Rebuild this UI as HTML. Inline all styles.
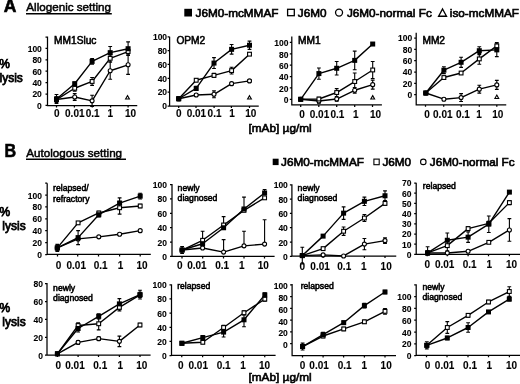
<!DOCTYPE html>
<html><head><meta charset="utf-8"><style>
html,body{margin:0;padding:0;background:#fff;}
svg{display:block;will-change:transform;filter:blur(0.3px);}
text{font-family:"Liberation Sans", sans-serif;fill:#000;stroke:#000;}
.hd{font-size:17.5px;font-weight:bold;stroke-width:0.6px;}
.st{font-size:11.65px;stroke-width:0.5px;}
.lg{font-size:11.75px;stroke-width:0.65px;}
.yl{font-size:12px;stroke-width:0.75px;}
.xl{font-size:11.8px;stroke-width:0.65px;}
.yt{font-size:8.5px;font-weight:bold;text-anchor:end;stroke-width:0.1px;}
.xt{font-size:10px;font-weight:bold;stroke-width:0.1px;}
.pt{stroke-width:0.55px;}
.ax{fill:none;stroke:#000;stroke-width:1.25px;}
.eb{fill:none;stroke:#000;stroke-width:1.1px;}
.ln{fill:none;stroke:#000;stroke-width:1.4px;stroke-linejoin:round;}
.o{fill:#fff;stroke:#000;stroke-width:1.1px;}
</style></head><body>
<svg width="520" height="384" viewBox="0 0 520 384">
<text x="3.7" y="12.4" class="hd">A</text>
<text x="26.3" y="11.3" class="st">Allogenic setting</text>
<path d="M26 13.75H111.8" class="ax" style="stroke-width:1.5px"/>
<text x="4.5" y="156.9" class="hd" textLength="11.6" lengthAdjust="spacingAndGlyphs">B</text>
<text x="26.3" y="156.8" class="st">Autologous setting</text>
<path d="M26 159.2H126" class="ax" style="stroke-width:1.5px"/>
<rect x="184.3" y="8.8" width="7.7" height="7.7"/>
<text x="195.5" y="16.7" class="lg">J6M0-mcMMAF</text>
<rect x="287.6" y="9.3" width="6.7" height="6.4" class="o" style="stroke-width:1.3px"/>
<text x="297.8" y="16.7" class="lg">J6M0</text>
<circle cx="339.05" cy="12.6" r="3.5" class="o" style="stroke-width:1.3px"/>
<text x="346.9" y="16.7" class="lg">J6M0-normal Fc</text>
<path d="M442.55 9L446.5 16.2H438.6Z" class="o" style="stroke-width:1.35px" stroke-linejoin="miter"/>
<text x="449.8" y="16.7" class="lg">iso-mcMMAF</text>
<rect x="272.7" y="158.7" width="5.9" height="6.4"/>
<text x="281.0" y="165.6" class="lg">J6M0-mcMMAF</text>
<rect x="373.9" y="159.1" width="5.3" height="5.6" class="o"/>
<text x="382.4" y="165.6" class="lg">J6M0</text>
<circle cx="423.3" cy="161.9" r="2.75" class="o"/>
<text x="429.8" y="165.6" class="lg">J6M0-normal Fc</text>
<text x="-0.8" y="67.7" class="yl">%</text>
<text x="-0.5" y="82.0" class="yl">lysis</text>
<text x="-0.5" y="216.2" class="yl">%</text>
<text x="2.3" y="230.0" class="yl">lysis</text>
<text x="-0.5" y="311.5" class="yl">%</text>
<text x="2.3" y="325.6" class="yl">lysis</text>
<text x="248.5" y="131.7" class="xl">[mAb] µg/ml</text>
<text x="248.5" y="381.4" class="xl">[mAb] µg/ml</text>
<path d="M47.5 36.4V105.6H137.25M45.5 105.4H47.5M45.5 94H47.5M45.5 82.6H47.5M45.5 71.2H47.5M45.5 59.8H47.5M45.5 48.4H47.5M45.5 37H47.5M56.5 105.6V107.6M74.4 105.6V107.6M92.25 105.6V107.6M110.6 105.6V107.6M128.1 105.6V107.6" class="ax"/>
<text x="41.85" y="108.8" class="yt">0</text>
<text x="41.85" y="97.4" class="yt">20</text>
<text x="41.85" y="86" class="yt">40</text>
<text x="41.85" y="74.6" class="yt">60</text>
<text x="41.85" y="63.2" class="yt">80</text>
<text x="41.85" y="51.8" class="yt">100</text>
<text x="53.95" y="117.4" class="xt">0</text>
<text x="65.05" y="117.4" class="xt">0.01</text>
<text x="85.7" y="117.4" class="xt">0.1</text>
<text x="107.6" y="117.4" class="xt">1</text>
<text x="124.88" y="117.4" class="xt">10</text>
<text x="54" y="44" class="pt" style="font-size:10.2px">MM1Sluc</text>
<path d="M56.5 94.47V103.5M54.6 94.47H58.4M54.6 103.5H58.4M74.7 82.04V85.42M72.8 82.04H76.6M72.8 85.42H76.6M92.1 58.59V64.24M90.2 58.59H94M90.2 64.24H94M110.2 46.44V58.87M108.3 46.44H112.1M108.3 58.87H112.1M128.1 41.92V55.48M126.2 41.92H130M126.2 55.48H130M56.5 96.72V102.38M54.6 96.72H58.4M54.6 102.38H58.4M74.7 85.42V91.08M72.8 85.42H76.6M72.8 91.08H76.6M92.1 77.52V85.42M90.2 77.52H94M90.2 85.42H94M110.2 54.92V61.7M108.3 54.92H112.1M108.3 61.7H112.1M128.1 48.14V54.92M126.2 48.14H130M126.2 54.92H130M56.5 96.72V102.38M54.6 96.72H58.4M54.6 102.38H58.4M74.7 93.62V100.4M72.8 93.62H76.6M72.8 100.4H76.6M92.1 95.2V106.5M90.2 95.2H94M90.2 106.5H94M110.2 62.26V79.21M108.3 62.26H112.1M108.3 79.21H112.1M128.1 55.2V74.41M126.2 55.2H130M126.2 74.41H130" class="eb"/>
<path d="M56.5 98.98L74.7 83.73L92.1 61.41L110.2 52.66L128.1 48.7" class="ln"/>
<path d="M56.5 99.55L74.7 88.25L92.1 81.47L110.2 58.31L128.1 51.53" class="ln"/>
<path d="M56.5 99.55L74.7 97.01L92.1 100.85L110.2 70.74L128.1 64.8" class="ln"/>
<path d="M127.5 95.59L129.4 98.99L125.6 98.99Z" class="o" stroke-width="1.2"/>
<circle cx="56.5" cy="99.55" r="2.0" class="o"/>
<circle cx="74.7" cy="97.01" r="2.0" class="o"/>
<circle cx="92.1" cy="100.85" r="2.0" class="o"/>
<circle cx="110.2" cy="70.74" r="2.0" class="o"/>
<circle cx="128.1" cy="64.8" r="2.0" class="o"/>
<rect x="54.6" y="97.65" width="3.8" height="3.8" class="o"/>
<rect x="72.8" y="86.35" width="3.8" height="3.8" class="o"/>
<rect x="90.2" y="79.57" width="3.8" height="3.8" class="o"/>
<rect x="108.3" y="56.41" width="3.8" height="3.8" class="o"/>
<rect x="126.2" y="49.63" width="3.8" height="3.8" class="o"/>
<rect x="54" y="96.48" width="5" height="5"/>
<rect x="72.2" y="81.23" width="5" height="5"/>
<rect x="89.6" y="58.91" width="5" height="5"/>
<rect x="107.7" y="50.16" width="5" height="5"/>
<rect x="125.6" y="46.2" width="5" height="5"/>
<path d="M169.6 36.8V106H258.75M167.6 106H169.6M167.6 92.16H169.6M167.6 78.32H169.6M167.6 64.48H169.6M167.6 50.64H169.6M167.6 36.8H169.6M178.7 106V108M196 106V108M214.1 106V108M231.4 106V108M249.5 106V108" class="ax"/>
<text x="167.1" y="109.2" class="yt">0</text>
<text x="167.1" y="95.36" class="yt">20</text>
<text x="167.1" y="81.52" class="yt">40</text>
<text x="167.1" y="67.68" class="yt">60</text>
<text x="167.1" y="53.84" class="yt">80</text>
<text x="167.1" y="40" class="yt">100</text>
<text x="176.05" y="117.4" class="xt">0</text>
<text x="186.65" y="117.4" class="xt">0.01</text>
<text x="207.6" y="117.4" class="xt">0.1</text>
<text x="229.2" y="117.4" class="xt">1</text>
<text x="245.18" y="117.4" class="xt">10</text>
<text x="176.4" y="44" class="pt" style="font-size:10.2px">OPM2</text>
<path d="M178.7 96.68V100.8M176.8 96.68H180.6M176.8 100.8H180.6M196.2 86.39V90.51M194.3 86.39H198.1M194.3 90.51H198.1M214 57.58V68.56M212.1 57.58H215.9M212.1 68.56H215.9M231.6 44.55V54.15M229.7 44.55H233.5M229.7 54.15H233.5M249.5 41.12V49.35M247.6 41.12H251.4M247.6 49.35H251.4M178.7 97.37V100.11M176.8 97.37H180.6M176.8 100.11H180.6M196.2 78.85V81.59M194.3 78.85H198.1M194.3 81.59H198.1M214 73.36V77.47M212.1 73.36H215.9M212.1 77.47H215.9M231.6 67.18V74.04M229.7 67.18H233.5M229.7 74.04H233.5M249.5 52.78V55.52M247.6 52.78H251.4M247.6 55.52H251.4M178.7 97.37V100.11M176.8 97.37H180.6M176.8 100.11H180.6M196.2 93.59V96.34M194.3 93.59H198.1M194.3 96.34H198.1M214 90.85V97.71M212.1 90.85H215.9M212.1 97.71H215.9M231.6 82.28V85.02M229.7 82.28H233.5M229.7 85.02H233.5M249.5 79.53V82.28M247.6 79.53H251.4M247.6 82.28H251.4" class="eb"/>
<path d="M178.7 98.74L196.2 88.45L214 63.07L231.6 49.35L249.5 45.23" class="ln"/>
<path d="M178.7 98.74L196.2 80.22L214 75.42L231.6 70.61L249.5 54.15" class="ln"/>
<path d="M178.7 98.74L196.2 94.97L214 94.28L231.6 83.65L249.5 80.9" class="ln"/>
<path d="M249.5 95.67L251.4 99.07L247.6 99.07Z" class="o" stroke-width="1.2"/>
<circle cx="178.7" cy="98.74" r="2.0" class="o"/>
<circle cx="196.2" cy="94.97" r="2.0" class="o"/>
<circle cx="214" cy="94.28" r="2.0" class="o"/>
<circle cx="231.6" cy="83.65" r="2.0" class="o"/>
<circle cx="249.5" cy="80.9" r="2.0" class="o"/>
<rect x="176.8" y="96.84" width="3.8" height="3.8" class="o"/>
<rect x="194.3" y="78.32" width="3.8" height="3.8" class="o"/>
<rect x="212.1" y="73.52" width="3.8" height="3.8" class="o"/>
<rect x="229.7" y="68.71" width="3.8" height="3.8" class="o"/>
<rect x="247.6" y="52.25" width="3.8" height="3.8" class="o"/>
<rect x="176.2" y="96.24" width="5" height="5"/>
<rect x="193.7" y="85.95" width="5" height="5"/>
<rect x="211.5" y="60.57" width="5" height="5"/>
<rect x="229.1" y="46.85" width="5" height="5"/>
<rect x="247" y="42.73" width="5" height="5"/>
<path d="M291.8 36.4V104.9H381.9M289.8 99.3H291.8M289.8 87.92H291.8M289.8 76.54H291.8M289.8 65.16H291.8M289.8 53.78H291.8M289.8 42.4H291.8M300.7 104.9V106.9M318.8 104.9V106.9M336.7 104.9V106.9M354.7 104.9V106.9M372.5 104.9V106.9" class="ax"/>
<text x="288.55" y="103.1" class="yt">0</text>
<text x="288.55" y="91.72" class="yt">20</text>
<text x="288.55" y="80.34" class="yt">40</text>
<text x="288.55" y="68.96" class="yt">60</text>
<text x="288.55" y="57.58" class="yt">80</text>
<text x="288.55" y="46.2" class="yt">100</text>
<text x="299.25" y="117.6" class="xt">0</text>
<text x="309.75" y="117.6" class="xt">0.01</text>
<text x="330.5" y="117.6" class="xt">0.1</text>
<text x="352.9" y="117.6" class="xt">1</text>
<text x="369.88" y="117.6" class="xt">10</text>
<text x="298" y="43.8" class="pt" style="font-size:10.2px">MM1</text>
<path d="M318.9 67.94V79.22M317 67.94H320.8M317 79.22H320.8M336.7 61.51V75.05M334.8 61.51H338.6M334.8 75.05H338.6M354.7 51.08V69.69M352.8 51.08H356.6M352.8 69.69H356.6M372.7 42.9V45.16M370.8 42.9H374.6M370.8 45.16H374.6M318.9 97.33V100.71M317 97.33H320.8M317 100.71H320.8M336.7 88.58V96.48M334.8 88.58H338.6M334.8 96.48H338.6M354.7 73.07V89.99M352.8 73.07H356.6M352.8 89.99H356.6M372.7 61.51V78.43M370.8 61.51H374.6M370.8 78.43H374.6M318.9 98.74V103.25M317 98.74H320.8M317 103.25H320.8M336.7 96.76V101.27M334.8 96.76H338.6M334.8 101.27H338.6M354.7 87.46V93.1M352.8 87.46H356.6M352.8 93.1H356.6M372.7 80.12V89.15M370.8 80.12H374.6M370.8 89.15H374.6" class="eb"/>
<path d="M300.7 99.3L318.9 73.58L336.7 68.28L354.7 60.38L372.7 44.03" class="ln"/>
<path d="M300.7 99.3L318.9 99.02L336.7 92.53L354.7 81.53L372.7 69.97" class="ln"/>
<path d="M300.7 99.3L318.9 100.99L336.7 99.02L354.7 90.28L372.7 84.64" class="ln"/>
<path d="M372.7 95.63L374.6 99.03L370.8 99.03Z" class="o" stroke-width="1.2"/>
<circle cx="300.7" cy="99.3" r="2.0" class="o"/>
<circle cx="318.9" cy="100.99" r="2.0" class="o"/>
<circle cx="336.7" cy="99.02" r="2.0" class="o"/>
<circle cx="354.7" cy="90.28" r="2.0" class="o"/>
<circle cx="372.7" cy="84.64" r="2.0" class="o"/>
<rect x="298.8" y="97.4" width="3.8" height="3.8" class="o"/>
<rect x="317" y="97.12" width="3.8" height="3.8" class="o"/>
<rect x="334.8" y="90.63" width="3.8" height="3.8" class="o"/>
<rect x="352.8" y="79.63" width="3.8" height="3.8" class="o"/>
<rect x="370.8" y="68.07" width="3.8" height="3.8" class="o"/>
<rect x="298.2" y="96.8" width="5" height="5"/>
<rect x="316.4" y="71.08" width="5" height="5"/>
<rect x="334.2" y="65.78" width="5" height="5"/>
<rect x="352.2" y="57.88" width="5" height="5"/>
<rect x="370.2" y="41.53" width="5" height="5"/>
<path d="M416.2 32.8V104.75H506.25M414.2 94.6H416.2M414.2 83.3H416.2M414.2 72H416.2M414.2 60.7H416.2M414.2 49.4H416.2M414.2 38.1H416.2M425.5 104.75V106.75M443.7 104.75V106.75M461.2 104.75V106.75M479.3 104.75V106.75M496.8 104.75V106.75" class="ax"/>
<text x="412.2" y="97.9" class="yt">0</text>
<text x="412.2" y="86.6" class="yt">20</text>
<text x="412.2" y="75.3" class="yt">40</text>
<text x="412.2" y="64" class="yt">60</text>
<text x="412.2" y="52.7" class="yt">80</text>
<text x="412.2" y="41.4" class="yt">100</text>
<text x="424.15" y="117.6" class="xt">0</text>
<text x="433.05" y="117.6" class="xt">0.01</text>
<text x="456" y="117.6" class="xt">0.1</text>
<text x="476.2" y="117.6" class="xt">1</text>
<text x="492.18" y="117.6" class="xt">10</text>
<text x="422.4" y="43.7" class="pt" style="font-size:10.2px">MM2</text>
<path d="M443.9 66.81V73.59M442 66.81H445.8M442 73.59H445.8M461.1 57.21V67.38M459.2 57.21H463M459.2 67.38H463M479.3 46.76V54.67M477.4 46.76H481.2M477.4 54.67H481.2M496.8 43.09V56.65M494.9 43.09H498.7M494.9 56.65H498.7M443.9 76.42V78.68M442 76.42H445.8M442 78.68H445.8M461.1 71.9V74.16M459.2 71.9H463M459.2 74.16H463M479.3 53.54V64.27M477.4 53.54H481.2M477.4 64.27H481.2M496.8 42.52V49.3M494.9 42.52H498.7M494.9 49.3H498.7M443.9 98.06V100.32M442 98.06H445.8M442 100.32H445.8M461.1 93.65V101.56M459.2 93.65H463M459.2 101.56H463M479.3 85.18V93.09M477.4 85.18H481.2M477.4 93.09H481.2M496.8 80.38V89.41M494.9 80.38H498.7M494.9 89.41H498.7" class="eb"/>
<path d="M425.8 93.03L443.9 70.2L461.1 62.3L479.3 50.71L496.8 49.87" class="ln"/>
<path d="M425.8 93.03L443.9 77.55L461.1 73.03L479.3 58.91L496.8 45.91" class="ln"/>
<path d="M425.8 93.03L443.9 99.19L461.1 97.61L479.3 89.13L496.8 84.89" class="ln"/>
<path d="M496.8 95.06L498.7 98.46L494.9 98.46Z" class="o" stroke-width="1.2"/>
<circle cx="425.8" cy="93.03" r="2.0" class="o"/>
<circle cx="443.9" cy="99.19" r="2.0" class="o"/>
<circle cx="461.1" cy="97.61" r="2.0" class="o"/>
<circle cx="479.3" cy="89.13" r="2.0" class="o"/>
<circle cx="496.8" cy="84.89" r="2.0" class="o"/>
<rect x="423.9" y="91.13" width="3.8" height="3.8" class="o"/>
<rect x="442" y="75.65" width="3.8" height="3.8" class="o"/>
<rect x="459.2" y="71.13" width="3.8" height="3.8" class="o"/>
<rect x="477.4" y="57.01" width="3.8" height="3.8" class="o"/>
<rect x="494.9" y="44.01" width="3.8" height="3.8" class="o"/>
<rect x="423.3" y="90.53" width="5" height="5"/>
<rect x="441.4" y="67.7" width="5" height="5"/>
<rect x="458.6" y="59.8" width="5" height="5"/>
<rect x="476.8" y="48.21" width="5" height="5"/>
<rect x="494.3" y="47.37" width="5" height="5"/>
<path d="M47.2 183.2V254.4H150.8M45.2 254.5H47.2M45.2 242.6H47.2M45.2 230.7H47.2M45.2 218.8H47.2M45.2 206.9H47.2M45.2 195H47.2M45.2 183.1H47.2M57.5 254.4V256.4M77.7 254.4V256.4M98.5 254.4V256.4M119.6 254.4V256.4M140.2 254.4V256.4" class="ax"/>
<text x="42.05" y="258" class="yt">0</text>
<text x="42.05" y="246.1" class="yt">20</text>
<text x="42.05" y="234.2" class="yt">40</text>
<text x="42.05" y="222.3" class="yt">60</text>
<text x="42.05" y="210.4" class="yt">80</text>
<text x="42.05" y="198.5" class="yt">100</text>
<text x="55.65" y="269.1" class="xt">0</text>
<text x="66.5" y="269.1" class="xt">0.01</text>
<text x="93.75" y="269.1" class="xt">0.1</text>
<text x="117.8" y="269.1" class="xt">1</text>
<text x="136.47" y="269.1" class="xt">10</text>
<text x="53.1" y="191.4" class="pt" style="font-size:8.65px">relapsed/</text>
<text x="53.1" y="201.6" class="pt" style="font-size:8.65px">refractory</text>
<path d="M57.3 244.41V251.39M55.4 244.41H59.2M55.4 251.39H59.2M78.1 230.61V244.58M76.2 230.61H80M76.2 244.58H80M98.8 212.4V217.05M96.9 212.4H100.7M96.9 217.05H100.7M119.6 197.85V208.32M117.7 197.85H121.5M117.7 208.32H121.5M140.2 193.19V199.01M138.3 193.19H142.1M138.3 199.01H142.1M57.3 244.99V250.81M55.4 244.99H59.2M55.4 250.81H59.2M78.1 221.71V224.04M76.2 221.71H80M76.2 224.04H80M98.8 211.23V214.72M96.9 211.23H100.7M96.9 214.72H100.7M119.6 201.34V214.14M117.7 201.34H121.5M117.7 214.14H121.5M140.2 204.25V207.74M138.3 204.25H142.1M138.3 207.74H142.1M57.3 244.99V250.81M55.4 244.99H59.2M55.4 250.81H59.2M78.1 237.71V240.04M76.2 237.71H80M76.2 240.04H80M98.8 235.68V238M96.9 235.68H100.7M96.9 238H100.7M119.6 233.06V235.38M117.7 233.06H121.5M117.7 235.38H121.5M140.2 229.51V231.83M138.3 229.51H142.1M138.3 231.83H142.1" class="eb"/>
<path d="M57.3 247.9L78.1 237.6L98.8 214.72L119.6 203.08L140.2 196.1" class="ln"/>
<path d="M57.3 247.9L78.1 222.87L98.8 212.98L119.6 207.74L140.2 205.99" class="ln"/>
<path d="M57.3 247.9L78.1 238.88L98.8 236.84L119.6 234.22L140.2 230.67" class="ln"/>
<circle cx="57.3" cy="247.9" r="2.0" class="o"/>
<circle cx="78.1" cy="238.88" r="2.0" class="o"/>
<circle cx="98.8" cy="236.84" r="2.0" class="o"/>
<circle cx="119.6" cy="234.22" r="2.0" class="o"/>
<circle cx="140.2" cy="230.67" r="2.0" class="o"/>
<rect x="55.4" y="246" width="3.8" height="3.8" class="o"/>
<rect x="76.2" y="220.97" width="3.8" height="3.8" class="o"/>
<rect x="96.9" y="211.08" width="3.8" height="3.8" class="o"/>
<rect x="117.7" y="205.84" width="3.8" height="3.8" class="o"/>
<rect x="138.3" y="204.09" width="3.8" height="3.8" class="o"/>
<rect x="54.8" y="245.4" width="5" height="5"/>
<rect x="75.6" y="235.1" width="5" height="5"/>
<rect x="96.3" y="212.22" width="5" height="5"/>
<rect x="117.1" y="200.58" width="5" height="5"/>
<rect x="137.7" y="193.6" width="5" height="5"/>
<path d="M172 183.9V256.4H274.6M170 256.4H172M170 242.02H172M170 227.64H172M170 213.26H172M170 198.88H172M170 184.5H172M182 256.4V258.4M202.7 256.4V258.4M223.5 256.4V258.4M244 256.4V258.4M264.5 256.4V258.4" class="ax"/>
<text x="167.05" y="259.9" class="yt">0</text>
<text x="167.05" y="245.52" class="yt">20</text>
<text x="167.05" y="231.14" class="yt">40</text>
<text x="167.05" y="216.76" class="yt">60</text>
<text x="167.05" y="202.38" class="yt">80</text>
<text x="167.05" y="188" class="yt">100</text>
<text x="177.05" y="269.4" class="xt">0</text>
<text x="187.15" y="269.4" class="xt">0.01</text>
<text x="215.2" y="269.4" class="xt">0.1</text>
<text x="238.9" y="269.4" class="xt">1</text>
<text x="257.77" y="269.4" class="xt">10</text>
<text x="177.6" y="190.8" class="pt" style="font-size:8.65px">newly</text>
<text x="177.6" y="201.3" class="pt" style="font-size:8.65px">diagnosed</text>
<path d="M182.1 246.56V253.52M180.2 246.56H184M180.2 253.52H184M202.6 243.77V243.77M223.6 227.76V227.76M244 208.97V208.97M264.6 189.48V192.96M262.7 189.48H266.5M182.1 246.56V253.52M180.2 246.56H184M180.2 253.52H184M202.6 231.24V240.29M200.7 231.24H204.5M223.6 216.63V224.98M221.7 216.63H225.5M244 197.14V210.36M242.1 197.14H245.9M264.6 197.84V197.84M182.1 248.64V250.04M180.2 248.64H184M202.6 246.56V247.95M200.7 246.56H204.5M223.6 239.6V252.12M221.7 239.6H225.5M244 231.24V245.86M242.1 231.24H245.9M264.6 219.76V244.12M262.7 219.76H266.5" class="eb"/>
<path d="M182.1 250.04L202.6 243.77L223.6 227.76L244 208.97L264.6 192.96" class="ln"/>
<path d="M182.1 250.04L202.6 240.29L223.6 224.98L244 210.36L264.6 197.84" class="ln"/>
<path d="M182.1 250.04L202.6 247.95L223.6 252.12L244 245.86L264.6 244.12" class="ln"/>
<circle cx="182.1" cy="250.04" r="2.0" class="o"/>
<circle cx="202.6" cy="247.95" r="2.0" class="o"/>
<circle cx="223.6" cy="252.12" r="2.0" class="o"/>
<circle cx="244" cy="245.86" r="2.0" class="o"/>
<circle cx="264.6" cy="244.12" r="2.0" class="o"/>
<rect x="180.2" y="248.14" width="3.8" height="3.8" class="o"/>
<rect x="200.7" y="238.39" width="3.8" height="3.8" class="o"/>
<rect x="221.7" y="223.08" width="3.8" height="3.8" class="o"/>
<rect x="242.1" y="208.46" width="3.8" height="3.8" class="o"/>
<rect x="262.7" y="195.94" width="3.8" height="3.8" class="o"/>
<rect x="179.6" y="247.54" width="5" height="5"/>
<rect x="200.1" y="241.27" width="5" height="5"/>
<rect x="221.1" y="225.26" width="5" height="5"/>
<rect x="241.5" y="206.47" width="5" height="5"/>
<rect x="262.1" y="190.46" width="5" height="5"/>
<path d="M291.9 184.3V256.1H396.25M289.9 256.3H291.9M289.9 242H291.9M289.9 227.7H291.9M289.9 213.4H291.9M289.9 199.1H291.9M289.9 184.8H291.9M302.3 256.1V258.1M323.1 256.1V258.1M343.5 256.1V258.1M364.4 256.1V258.1M385 256.1V258.1" class="ax"/>
<text x="287.85" y="259.8" class="yt">0</text>
<text x="287.85" y="245.5" class="yt">20</text>
<text x="287.85" y="231.2" class="yt">40</text>
<text x="287.85" y="216.9" class="yt">60</text>
<text x="287.85" y="202.6" class="yt">80</text>
<text x="287.85" y="188.3" class="yt">100</text>
<text x="299.55" y="269.5" class="xt">0</text>
<text x="310.35" y="269.5" class="xt">0.01</text>
<text x="337.3" y="269.5" class="xt">0.1</text>
<text x="361.1" y="269.5" class="xt">1</text>
<text x="380.62" y="269.5" class="xt">10</text>
<text x="297.6" y="190.8" class="pt" style="font-size:8.65px">newly</text>
<text x="297.6" y="201.3" class="pt" style="font-size:8.65px">diagnosed</text>
<path d="M302.3 247.25V263.96M300.4 247.25H304.2M300.4 263.96H304.2M323.1 234.72V237.51M321.2 234.72H325M321.2 237.51H325M343.6 206.88V219.41M341.7 206.88H345.5M341.7 219.41H345.5M364.4 197.14V205.49M362.5 197.14H366.3M362.5 205.49H366.3M385 190.88V200.62M383.1 190.88H386.9M383.1 200.62H386.9M302.3 254.21V257M300.4 254.21H304.2M300.4 257H304.2M323.1 247.25V250.04M321.2 247.25H325M321.2 250.04H325M343.6 227.07V235.42M341.7 227.07H345.5M341.7 235.42H345.5M364.4 214.54V221.5M362.5 214.54H366.3M362.5 221.5H366.3M385 201.32V205.49M383.1 201.32H386.9M383.1 205.49H386.9M302.3 254.21V257M300.4 254.21H304.2M300.4 257H304.2M323.1 254.21V255.6M321.2 254.21H325M321.2 255.6H325M343.6 255.26V256.65M341.7 255.26H345.5M341.7 256.65H345.5M364.4 238.55V249.69M362.5 238.55H366.3M362.5 249.69H366.3M385 237.86V243.42M383.1 237.86H386.9M383.1 243.42H386.9" class="eb"/>
<path d="M302.3 255.6L323.1 236.12L343.6 213.15L364.4 201.32L385 195.75" class="ln"/>
<path d="M302.3 255.6L323.1 248.64L343.6 231.24L364.4 218.02L385 203.4" class="ln"/>
<path d="M302.3 255.6L323.1 254.91L343.6 255.95L364.4 244.12L385 240.64" class="ln"/>
<circle cx="302.3" cy="255.6" r="2.0" class="o"/>
<circle cx="323.1" cy="254.91" r="2.0" class="o"/>
<circle cx="343.6" cy="255.95" r="2.0" class="o"/>
<circle cx="364.4" cy="244.12" r="2.0" class="o"/>
<circle cx="385" cy="240.64" r="2.0" class="o"/>
<rect x="300.4" y="253.7" width="3.8" height="3.8" class="o"/>
<rect x="321.2" y="246.74" width="3.8" height="3.8" class="o"/>
<rect x="341.7" y="229.34" width="3.8" height="3.8" class="o"/>
<rect x="362.5" y="216.12" width="3.8" height="3.8" class="o"/>
<rect x="383.1" y="201.5" width="3.8" height="3.8" class="o"/>
<rect x="299.8" y="253.1" width="5" height="5"/>
<rect x="320.6" y="233.62" width="5" height="5"/>
<rect x="341.1" y="210.65" width="5" height="5"/>
<rect x="361.9" y="198.82" width="5" height="5"/>
<rect x="382.5" y="193.25" width="5" height="5"/>
<path d="M416.2 182.7V254.3H520M414.2 254.4H416.2M414.2 244.2H416.2M414.2 234H416.2M414.2 223.8H416.2M414.2 213.6H416.2M414.2 203.4H416.2M414.2 193.2H416.2M414.2 183H416.2M427.2 254.3V256.3M447.3 254.3V256.3M468.1 254.3V256.3M488.5 254.3V256.3M509.4 254.3V256.3" class="ax"/>
<text x="411.45" y="257.7" class="yt">0</text>
<text x="411.45" y="247.5" class="yt">10</text>
<text x="411.45" y="237.3" class="yt">20</text>
<text x="411.45" y="227.1" class="yt">30</text>
<text x="411.45" y="216.9" class="yt">40</text>
<text x="411.45" y="206.7" class="yt">50</text>
<text x="411.45" y="196.5" class="yt">60</text>
<text x="411.45" y="186.3" class="yt">70</text>
<text x="424.45" y="268" class="xt">0</text>
<text x="434.95" y="268" class="xt">0.01</text>
<text x="462.7" y="268" class="xt">0.1</text>
<text x="486.4" y="268" class="xt">1</text>
<text x="505.98" y="268" class="xt">10</text>
<text x="422.8" y="189.3" class="pt" style="font-size:8.65px">relapsed</text>
<path d="M427.6 246.76V254.7M425.7 246.76H429.5M425.7 254.7H429.5M447.3 233.05V247.48M445.4 233.05H449.2M445.4 247.48H449.2M468.1 232.02V242.33M466.2 232.02H470M466.2 242.33H470M488.8 215.93V232.43M486.9 215.93H490.7M486.9 232.43H490.7M509.4 191.09V193.15M507.5 191.09H511.3M507.5 193.15H511.3M427.6 250.89V255.01M425.7 250.89H429.5M425.7 255.01H429.5M447.3 240.47V250.78M445.4 240.47H449.2M445.4 250.78H449.2M468.1 226.55V230.68M466.2 226.55H470M466.2 230.68H470M488.8 221.3V225.42M486.9 221.3H490.7M486.9 225.42H490.7M509.4 200.57V204.7M507.5 200.57H511.3M507.5 204.7H511.3M427.6 251.92V253.98M425.7 251.92H429.5M425.7 253.98H429.5M447.3 251.92V253.98M445.4 251.92H449.2M445.4 253.98H449.2M468.1 250.27V252.33M466.2 250.27H470M466.2 252.33H470M488.8 241.3V243.36M486.9 241.3H490.7M486.9 243.36H490.7M509.4 218.61V241.3M507.5 218.61H511.3M507.5 241.3H511.3" class="eb"/>
<path d="M427.6 252.95L447.3 240.27L468.1 237.17L488.8 224.18L509.4 192.12" class="ln"/>
<path d="M427.6 252.95L447.3 245.63L468.1 228.62L488.8 223.36L509.4 202.63" class="ln"/>
<path d="M427.6 252.95L447.3 252.95L468.1 251.3L488.8 242.33L509.4 229.96" class="ln"/>
<circle cx="427.6" cy="252.95" r="2.0" class="o"/>
<circle cx="447.3" cy="252.95" r="2.0" class="o"/>
<circle cx="468.1" cy="251.3" r="2.0" class="o"/>
<rect x="486.9" y="240.43" width="3.8" height="3.8" class="o"/>
<circle cx="509.4" cy="229.96" r="2.0" class="o"/>
<rect x="425.7" y="251.05" width="3.8" height="3.8" class="o"/>
<rect x="445.4" y="243.73" width="3.8" height="3.8" class="o"/>
<rect x="466.2" y="226.72" width="3.8" height="3.8" class="o"/>
<rect x="486.9" y="221.46" width="3.8" height="3.8" class="o"/>
<rect x="507.5" y="200.73" width="3.8" height="3.8" class="o"/>
<rect x="425.1" y="250.45" width="5" height="5"/>
<rect x="444.8" y="237.77" width="5" height="5"/>
<rect x="465.6" y="234.67" width="5" height="5"/>
<rect x="486.3" y="221.68" width="5" height="5"/>
<rect x="506.9" y="189.62" width="5" height="5"/>
<path d="M47 283.1V355H150.6M45 355.2H47M45 337.3H47M45 319.4H47M45 301.5H47M45 283.6H47M57.4 355V357M78.1 355V357M98.5 355V357M119.4 355V357M140 355V357" class="ax"/>
<text x="42.95" y="359" class="yt">0</text>
<text x="42.95" y="341.1" class="yt">20</text>
<text x="42.95" y="323.2" class="yt">40</text>
<text x="42.95" y="305.3" class="yt">60</text>
<text x="42.95" y="287.4" class="yt">80</text>
<text x="55.55" y="368.5" class="xt">0</text>
<text x="65.25" y="368.5" class="xt">0.01</text>
<text x="93.3" y="368.5" class="xt">0.1</text>
<text x="117.5" y="368.5" class="xt">1</text>
<text x="136.28" y="368.5" class="xt">10</text>
<text x="53.1" y="290.7" class="pt" style="font-size:8.65px">newly</text>
<text x="53.1" y="301.3" class="pt" style="font-size:8.65px">diagnosed</text>
<path d="M78.1 324.99V332M76.2 324.99H80M76.2 332H80M98.7 313.69V318.95M96.8 313.69H100.6M96.8 318.95H100.6M119.4 298.62V309.13M117.5 298.62H121.3M117.5 309.13H121.3M140 290.3V299.06M138.1 290.3H141.9M138.1 299.06H141.9M78.1 322.89V328.14M76.2 322.89H80M76.2 328.14H80M98.7 317.63V329.9M96.8 317.63H100.6M96.8 329.9H100.6M119.4 303.88V310.89M117.5 303.88H121.3M117.5 310.89H121.3M140 292.23V297.48M138.1 292.23H141.9M138.1 297.48H141.9M78.1 340.58V344.09M76.2 340.58H80M76.2 344.09H80M98.7 336.9V340.41M96.8 336.9H100.6M96.8 340.41H100.6M119.4 336.12V346.63M117.5 336.12H121.3M117.5 346.63H121.3M140 323.24V326.74M138.1 323.24H141.9M138.1 326.74H141.9" class="eb"/>
<path d="M57.4 353.81L78.1 328.49L98.7 316.32L119.4 303.88L140 294.68" class="ln"/>
<path d="M57.4 353.81L78.1 325.52L98.7 323.76L119.4 307.38L140 294.86" class="ln"/>
<path d="M57.4 353.81L78.1 342.34L98.7 338.66L119.4 341.37L140 324.99" class="ln"/>
<circle cx="57.4" cy="353.81" r="2.0" class="o"/>
<circle cx="78.1" cy="342.34" r="2.0" class="o"/>
<circle cx="98.7" cy="338.66" r="2.0" class="o"/>
<circle cx="119.4" cy="341.37" r="2.0" class="o"/>
<rect x="138.1" y="323.09" width="3.8" height="3.8" class="o"/>
<rect x="55.5" y="351.91" width="3.8" height="3.8" class="o"/>
<rect x="76.2" y="323.62" width="3.8" height="3.8" class="o"/>
<rect x="96.8" y="321.86" width="3.8" height="3.8" class="o"/>
<rect x="117.5" y="305.48" width="3.8" height="3.8" class="o"/>
<rect x="138.1" y="292.96" width="3.8" height="3.8" class="o"/>
<rect x="54.9" y="351.31" width="5" height="5"/>
<rect x="75.6" y="325.99" width="5" height="5"/>
<rect x="96.2" y="313.82" width="5" height="5"/>
<rect x="116.9" y="301.38" width="5" height="5"/>
<rect x="137.5" y="292.18" width="5" height="5"/>
<path d="M171.5 284.3V355.3H275.6M169.5 355.6H171.5M169.5 341.44H171.5M169.5 327.28H171.5M169.5 313.12H171.5M169.5 298.96H171.5M169.5 284.8H171.5M181.75 355.3V357.3M202.6 355.3V357.3M223.4 355.3V357.3M243.75 355.3V357.3M264.75 355.3V357.3" class="ax"/>
<text x="166.75" y="359" class="yt">0</text>
<text x="166.75" y="344.84" class="yt">20</text>
<text x="166.75" y="330.68" class="yt">40</text>
<text x="166.75" y="316.52" class="yt">60</text>
<text x="166.75" y="302.36" class="yt">80</text>
<text x="166.75" y="288.2" class="yt">100</text>
<text x="178" y="368.5" class="xt">0</text>
<text x="188.5" y="368.5" class="xt">0.01</text>
<text x="216.7" y="368.5" class="xt">0.1</text>
<text x="240.25" y="368.5" class="xt">1</text>
<text x="259.07" y="368.5" class="xt">10</text>
<text x="177.2" y="289.3" class="pt" style="font-size:8.65px">relapsed</text>
<path d="M181.9 341.88V344.68M180 341.88H183.8M180 344.68H183.8M202.8 335.57V339.78M200.9 335.57H204.7M200.9 339.78H204.7M223.6 327.16V336.97M221.7 327.16H225.5M221.7 336.97H225.5M244 312.79V326.81M242.1 312.79H245.9M242.1 326.81H245.9M264.8 292.81V297.02M262.9 292.81H266.7M262.9 297.02H266.7M181.9 341.88V344.68M180 341.88H183.8M180 344.68H183.8M202.8 340.9V343.7M200.9 340.9H204.7M200.9 343.7H204.7M223.6 325.41V329.61M221.7 325.41H225.5M221.7 329.61H225.5M244 310.69V314.89M242.1 310.69H245.9M242.1 314.89H245.9M264.8 297.02V301.22M262.9 297.02H266.7M262.9 301.22H266.7" class="eb"/>
<path d="M181.9 343.28L202.8 337.67L223.6 332.07L244 319.8L264.8 294.91" class="ln"/>
<path d="M181.9 343.28L202.8 342.3L223.6 327.51L244 312.79L264.8 299.12" class="ln"/>
<rect x="180" y="341.38" width="3.8" height="3.8" class="o"/>
<rect x="200.9" y="340.4" width="3.8" height="3.8" class="o"/>
<rect x="221.7" y="325.61" width="3.8" height="3.8" class="o"/>
<rect x="242.1" y="310.89" width="3.8" height="3.8" class="o"/>
<rect x="262.9" y="297.22" width="3.8" height="3.8" class="o"/>
<rect x="179.4" y="340.78" width="5" height="5"/>
<rect x="200.3" y="335.17" width="5" height="5"/>
<rect x="221.1" y="329.57" width="5" height="5"/>
<rect x="241.5" y="317.3" width="5" height="5"/>
<rect x="262.3" y="292.41" width="5" height="5"/>
<path d="M292.1 283.9V355.5H396M290.1 343.6H292.1M290.1 331.84H292.1M290.1 320.08H292.1M290.1 308.32H292.1M290.1 296.56H292.1M290.1 284.8H292.1M302.5 355.5V357.5M323.1 355.5V357.5M343.6 355.5V357.5M364.4 355.5V357.5M385 355.5V357.5" class="ax"/>
<text x="287.85" y="348.1" class="yt">0</text>
<text x="287.85" y="336.34" class="yt">20</text>
<text x="287.85" y="324.58" class="yt">40</text>
<text x="287.85" y="312.82" class="yt">60</text>
<text x="287.85" y="301.06" class="yt">80</text>
<text x="287.85" y="289.3" class="yt">100</text>
<text x="299.75" y="368.5" class="xt">0</text>
<text x="309.35" y="368.5" class="xt">0.01</text>
<text x="337.7" y="368.5" class="xt">0.1</text>
<text x="361.4" y="368.5" class="xt">1</text>
<text x="380.62" y="368.5" class="xt">10</text>
<text x="300.7" y="289.3" class="pt" style="font-size:8.65px">relapsed</text>
<path d="M302.6 343.13V349.95M300.7 343.13H304.5M300.7 349.95H304.5M323.1 332.34V336.88M321.2 332.34H325M321.2 336.88H325M343.7 320.98V324.39M341.8 320.98H345.6M341.8 324.39H345.6M364.4 303.37V307.92M362.5 303.37H366.3M362.5 307.92H366.3M385 290.31V293.72M383.1 290.31H386.9M383.1 293.72H386.9M302.6 343.13V349.95M300.7 343.13H304.5M300.7 349.95H304.5M323.1 334.33V337.74M321.2 334.33H325M321.2 337.74H325M343.7 327.23V330.64M341.8 327.23H345.6M341.8 330.64H345.6M364.4 320.13V323.54M362.5 320.13H366.3M362.5 323.54H366.3M385 308.48V314.16M383.1 308.48H386.9M383.1 314.16H386.9" class="eb"/>
<path d="M302.6 346.54L323.1 334.61L343.7 322.68L364.4 305.64L385 292.01" class="ln"/>
<path d="M302.6 346.54L323.1 336.03L343.7 328.93L364.4 321.83L385 311.32" class="ln"/>
<rect x="300.7" y="344.64" width="3.8" height="3.8" class="o"/>
<rect x="321.2" y="334.13" width="3.8" height="3.8" class="o"/>
<rect x="341.8" y="327.03" width="3.8" height="3.8" class="o"/>
<rect x="362.5" y="319.93" width="3.8" height="3.8" class="o"/>
<rect x="383.1" y="309.42" width="3.8" height="3.8" class="o"/>
<rect x="300.1" y="344.04" width="5" height="5"/>
<rect x="320.6" y="332.11" width="5" height="5"/>
<rect x="341.2" y="320.18" width="5" height="5"/>
<rect x="361.9" y="303.14" width="5" height="5"/>
<rect x="382.5" y="289.51" width="5" height="5"/>
<path d="M416.2 284.3V355.3H520M414.2 355.6H416.2M414.2 343.8H416.2M414.2 332H416.2M414.2 320.2H416.2M414.2 308.4H416.2M414.2 296.6H416.2M414.2 284.8H416.2M426.5 355.3V357.3M447 355.3V357.3M468 355.3V357.3M488.5 355.3V357.3M509.4 355.3V357.3" class="ax"/>
<text x="411.45" y="359.2" class="yt">0</text>
<text x="411.45" y="347.4" class="yt">20</text>
<text x="411.45" y="335.6" class="yt">40</text>
<text x="411.45" y="323.8" class="yt">60</text>
<text x="411.45" y="312" class="yt">80</text>
<text x="411.45" y="300.2" class="yt">100</text>
<text x="424.65" y="368.5" class="xt">0</text>
<text x="434.85" y="368.5" class="xt">0.01</text>
<text x="463.1" y="368.5" class="xt">0.1</text>
<text x="486.6" y="368.5" class="xt">1</text>
<text x="505.98" y="368.5" class="xt">10</text>
<text x="422.5" y="289.7" class="pt" style="font-size:8.65px">newly</text>
<text x="422.5" y="300.3" class="pt" style="font-size:8.65px">diagnosed</text>
<path d="M426.8 341.79V348.84M424.9 341.79H428.7M424.9 348.84H428.7M447.3 336.2V339.73M445.4 336.2H449.2M445.4 339.73H449.2M468.1 322.8V332.2M466.2 322.8H470M466.2 332.2H470M488.5 310.74V313.09M486.6 310.74H490.4M486.6 313.09H490.4M509.3 297.34V300.86M507.4 297.34H511.2M507.4 300.86H511.2M426.8 341.79V348.84M424.9 341.79H428.7M424.9 348.84H428.7M447.3 321.62V333.38M445.4 321.62H449.2M445.4 333.38H449.2M468.1 313.56V317.09M466.2 313.56H470M466.2 317.09H470M488.5 300.22V303.74M486.6 300.22H490.4M486.6 303.74H490.4M509.3 286.81V296.22M507.4 286.81H511.2M507.4 296.22H511.2" class="eb"/>
<path d="M426.8 345.32L447.3 337.97L468.1 327.5L488.5 311.92L509.3 299.1" class="ln"/>
<path d="M426.8 345.32L447.3 327.5L468.1 315.33L488.5 301.98L509.3 291.51" class="ln"/>
<rect x="424.9" y="343.42" width="3.8" height="3.8" class="o"/>
<rect x="445.4" y="325.6" width="3.8" height="3.8" class="o"/>
<rect x="466.2" y="313.43" width="3.8" height="3.8" class="o"/>
<rect x="486.6" y="300.08" width="3.8" height="3.8" class="o"/>
<rect x="507.4" y="289.61" width="3.8" height="3.8" class="o"/>
<rect x="424.3" y="342.82" width="5" height="5"/>
<rect x="444.8" y="335.47" width="5" height="5"/>
<rect x="465.6" y="325" width="5" height="5"/>
<rect x="486" y="309.42" width="5" height="5"/>
<rect x="506.8" y="296.6" width="5" height="5"/>
</svg>
</body></html>
